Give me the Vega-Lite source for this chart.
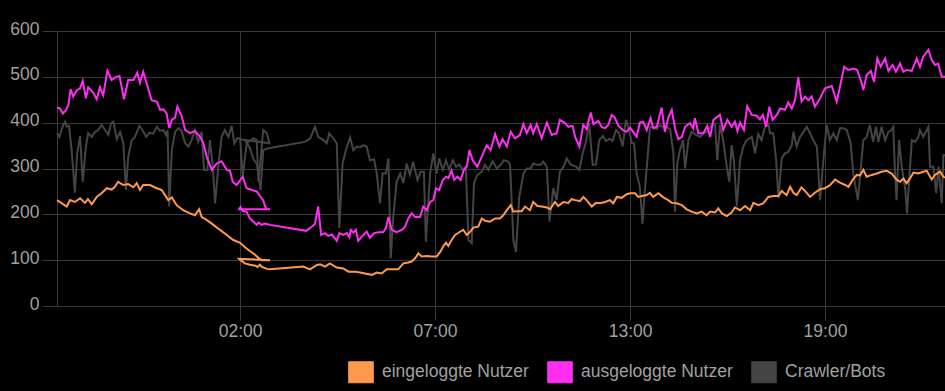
{
"$schema": "https://vega.github.io/schema/vega-lite/v6.json",
"width": 888, "height": 275,
"autosize": "none",
"padding": {"left": 57, "top": 31, "right": 0, "bottom": 85},
"background": "#000000",
"config": {"view": {"stroke": null}, "font": "Liberation Sans"},
"datasets": {
"ein": [{"i":0,"v":231},{"i":3,"v":217},{"i":4,"v":231},{"i":5.5,"v":227},{"i":7.1,"v":235},{"i":8.6,"v":225},{"i":9.5,"v":233},{"i":10.7,"v":222},{"i":12.2,"v":238},{"i":13.7,"v":246},{"i":15.3,"v":257},{"i":16.8,"v":254},{"i":17.8,"v":260},{"i":18.8,"v":271},{"i":20.4,"v":264},{"i":21.9,"v":266},{"i":23.5,"v":259},{"i":24.5,"v":268},{"i":25.5,"v":253},{"i":26.5,"v":264},{"i":28.6,"v":264},{"i":30.7,"v":257},{"i":32.2,"v":253},{"i":33.2,"v":242},{"i":34.2,"v":231},{"i":35.3,"v":237},{"i":36.8,"v":220},{"i":38.8,"v":209},{"i":40.9,"v":202},{"i":42.4,"v":198},{"i":43.7,"v":211},{"i":44.5,"v":194},{"i":46,"v":188},{"i":48.1,"v":177},{"i":50.1,"v":166},{"i":52.2,"v":155},{"i":54.2,"v":144},{"i":56.3,"v":138},{"i":57.8,"v":128},{"i":59.3,"v":120},{"i":60.9,"v":112},{"i":61.9,"v":105},{"i":62.9,"v":100},{"i":64.5,"v":100},{"i":65.5,"v":100},
{"i":56,"v":103},{"i":56.6,"v":99},{"i":57.8,"v":93},{"i":59.3,"v":90},{"i":61,"v":88},{"i":61.6,"v":85},{"i":62.4,"v":90},{"i":62.9,"v":86},{"i":64.5,"v":81},{"i":65.5,"v":80},
{"i":75.7,"v":86},{"i":77.8,"v":80},{"i":79.8,"v":89},{"i":80.9,"v":91},{"i":82.4,"v":86},{"i":83.9,"v":93},{"i":86,"v":84},{"i":88,"v":82},{"i":89.6,"v":75},{"i":91.6,"v":75},{"i":93.2,"v":73},{"i":94.7,"v":71},{"i":96.8,"v":68},{"i":98.3,"v":73},{"i":99.8,"v":71},{"i":101.4,"v":80},{"i":102.9,"v":80},{"i":104.9,"v":80},{"i":106.5,"v":93},{"i":108,"v":95},{"i":109,"v":97},{"i":110.1,"v":104},{"i":111.1,"v":115},{"i":112.1,"v":108},{"i":113.7,"v":109},{"i":115.2,"v":108},{"i":116.7,"v":108},{"i":117.8,"v":118},{"i":118.8,"v":131},{"i":119.6,"v":138},{"i":120.3,"v":131},{"i":121.3,"v":144},{"i":122.4,"v":155},{"i":123.9,"v":162},{"i":124.9,"v":166},{"i":126,"v":155},{"i":127,"v":162},{"i":128,"v":171},{"i":129.5,"v":173},{"i":130.6,"v":191},{"i":131.6,"v":186},{"i":133.1,"v":184},{"i":134.7,"v":191},{"i":136.2,"v":191},{"i":137.2,"v":198},{"i":138.3,"v":209},{"i":139.5,"v":220},{"i":140.3,"v":206},{"i":141.8,"v":207},{"i":142.9,"v":207},{"i":143.9,"v":217},{"i":145.4,"v":209},{"i":146.4,"v":227},{"i":147.7,"v":218},{"i":149,"v":217},{"i":150.6,"v":215},{"i":151.6,"v":211},{"i":153.1,"v":227},{"i":154.1,"v":218},{"i":155.7,"v":227},{"i":157.2,"v":225},{"i":158.2,"v":233},{"i":159.3,"v":231},{"i":160.8,"v":229},{"i":161.8,"v":238},{"i":162.8,"v":231},{"i":164.4,"v":217},{"i":165.7,"v":225},{"i":166.9,"v":224},{"i":168.5,"v":227},{"i":170,"v":231},{"i":171,"v":224},{"i":172.1,"v":238},{"i":173.6,"v":236},{"i":175.1,"v":244},{"i":176.2,"v":246},{"i":177.7,"v":246},{"i":178.7,"v":238},{"i":179.8,"v":240},{"i":181.3,"v":242},{"i":182.3,"v":247},{"i":183.3,"v":238},{"i":184.9,"v":246},{"i":186.4,"v":237},{"i":187.9,"v":231},{"i":189,"v":225},{"i":190.5,"v":224},{"i":192.1,"v":220},{"i":193.6,"v":211},{"i":195.1,"v":206},{"i":196.7,"v":202},{"i":198.2,"v":206},{"i":199.7,"v":198},{"i":200.8,"v":206},{"i":202.3,"v":204},{"i":203.3,"v":213},{"i":204.4,"v":202},{"i":205.9,"v":196},{"i":207.4,"v":204},{"i":208.4,"v":215},{"i":210,"v":209},{"i":211.5,"v":218},{"i":213.1,"v":209},{"i":214.1,"v":225},{"i":215.6,"v":220},{"i":217.1,"v":224},{"i":218.7,"v":238},{"i":220.2,"v":240},{"i":221.8,"v":240},{"i":222.8,"v":251},{"i":224.3,"v":242},{"i":225.4,"v":260},{"i":226.4,"v":247},{"i":227.4,"v":242},{"i":228.9,"v":259},{"i":230.5,"v":247},{"i":231.5,"v":238},{"i":233,"v":247},{"i":234.6,"v":255},{"i":236.1,"v":257},{"i":237.7,"v":264},{"i":239.2,"v":276},{"i":240.7,"v":269},{"i":242.3,"v":264},{"i":243.3,"v":260},{"i":244.6,"v":275},{"i":245.9,"v":286},{"i":246.9,"v":285},{"i":247.9,"v":297},{"i":248.9,"v":282},{"i":250.5,"v":286},{"i":252,"v":289},{"i":253.5,"v":293},{"i":255.1,"v":295},{"i":256.6,"v":289},{"i":258.2,"v":275},{"i":259.2,"v":271},{"i":260.2,"v":278},{"i":261.2,"v":268},{"i":262.2,"v":278},{"i":263.3,"v":291},{"i":264.8,"v":289},{"i":266.3,"v":293},{"i":267.4,"v":295},{"i":268.9,"v":276},{"i":269.9,"v":286},{"i":271.5,"v":293},{"i":272.5,"v":282},{"i":273,"v":280}],
"aus": [{"i":0,"v":433},{"i":0.9,"v":431},{"i":1.8,"v":420},{"i":2.8,"v":428},{"i":3.5,"v":439},{"i":4.2,"v":473},{"i":5,"v":457},{"i":6.1,"v":471},{"i":7.1,"v":475},{"i":7.9,"v":491},{"i":8.9,"v":453},{"i":9.6,"v":477},{"i":11.2,"v":465},{"i":12.2,"v":451},{"i":13.2,"v":477},{"i":14.2,"v":460},{"i":15.5,"v":513},{"i":16.8,"v":493},{"i":18.1,"v":500},{"i":19.2,"v":502},{"i":20.6,"v":451},{"i":21.9,"v":493},{"i":23.5,"v":493},{"i":24.7,"v":509},{"i":25.5,"v":487},{"i":26.5,"v":511},{"i":28.1,"v":473},{"i":29.1,"v":449},{"i":30.7,"v":446},{"i":31.7,"v":428},{"i":32.7,"v":429},{"i":33.7,"v":420},{"i":34.5,"v":388},{"i":35.3,"v":406},{"i":36.3,"v":411},{"i":37,"v":435},{"i":38.3,"v":415},{"i":39.4,"v":384},{"i":40.9,"v":377},{"i":42.4,"v":382},{"i":44,"v":369},{"i":45,"v":355},{"i":46,"v":326},{"i":47.6,"v":297},{"i":49.1,"v":311},{"i":50.6,"v":316},{"i":52.2,"v":297},{"i":53.2,"v":295},{"i":54,"v":271},{"i":55.2,"v":264},{"i":57.1,"v":282},{"i":58.3,"v":257},{"i":59.9,"v":253},{"i":61.4,"v":250},{"i":62.4,"v":240},{"i":63.4,"v":231},{"i":64,"v":217},{"i":64.5,"v":211},{"i":65.5,"v":211},
{"i":56,"v":211},{"i":56.4,"v":216},{"i":57.1,"v":207},{"i":58.3,"v":206},{"i":59.3,"v":191},{"i":60.4,"v":184},{"i":61.4,"v":177},{"i":62,"v":182},{"i":62.9,"v":177},{"i":63.9,"v":180},{"i":65.5,"v":177},
{"i":76.6,"v":164},{"i":78.3,"v":173},{"i":79.3,"v":179},{"i":80.3,"v":217},{"i":81.2,"v":155},{"i":82.4,"v":159},{"i":83.4,"v":153},{"i":84.5,"v":156},{"i":85.2,"v":150},{"i":86,"v":142},{"i":86.8,"v":159},{"i":88,"v":155},{"i":89.1,"v":159},{"i":89.9,"v":150},{"i":90.3,"v":166},{"i":91.1,"v":160},{"i":91.9,"v":166},{"i":92.6,"v":142},{"i":94.2,"v":155},{"i":95.2,"v":162},{"i":96.2,"v":149},{"i":97.5,"v":159},{"i":98.8,"v":161},{"i":100.3,"v":161},{"i":101.1,"v":170},{"i":101.9,"v":194},{"i":102.9,"v":166},{"i":104.4,"v":161},{"i":106,"v":166},{"i":107,"v":173},{"i":108,"v":191},{"i":109,"v":202},{"i":110.1,"v":194},{"i":111.6,"v":194},{"i":112.6,"v":217},{"i":113.7,"v":209},{"i":114.7,"v":227},{"i":115.7,"v":231},{"i":116.5,"v":257},{"i":117.5,"v":253},{"i":118.6,"v":275},{"i":119.6,"v":282},{"i":120.3,"v":279},{"i":121.3,"v":295},{"i":122.1,"v":275},{"i":123.1,"v":282},{"i":124.1,"v":275},{"i":125.1,"v":297},{"i":126,"v":304},{"i":126.8,"v":340},{"i":127.8,"v":318},{"i":129.2,"v":304},{"i":130.6,"v":326},{"i":132.1,"v":351},{"i":133.3,"v":340},{"i":134.7,"v":375},{"i":136,"v":348},{"i":137,"v":364},{"i":138.3,"v":348},{"i":139.5,"v":380},{"i":140.8,"v":366},{"i":142.3,"v":373},{"i":143.4,"v":397},{"i":144.4,"v":377},{"i":145.6,"v":395},{"i":146.4,"v":377},{"i":147.5,"v":397},{"i":149,"v":366},{"i":150.6,"v":400},{"i":152.1,"v":373},{"i":153.6,"v":377},{"i":154.6,"v":406},{"i":156.2,"v":399},{"i":157.2,"v":391},{"i":158.5,"v":393},{"i":159.3,"v":369},{"i":160.6,"v":348},{"i":161.8,"v":395},{"i":162.8,"v":386},{"i":164.1,"v":422},{"i":164.9,"v":397},{"i":166.4,"v":404},{"i":167.5,"v":390},{"i":168.5,"v":388},{"i":169.5,"v":395},{"i":170.5,"v":417},{"i":171.5,"v":411},{"i":172.6,"v":393},{"i":174.1,"v":383},{"i":175.1,"v":380},{"i":176.2,"v":389},{"i":178.2,"v":369},{"i":179.2,"v":400},{"i":180.2,"v":402},{"i":181.3,"v":384},{"i":182.5,"v":410},{"i":183.3,"v":388},{"i":184.4,"v":391},{"i":185.9,"v":433},{"i":186.9,"v":380},{"i":187.9,"v":410},{"i":189,"v":428},{"i":190,"v":388},{"i":191,"v":364},{"i":192.1,"v":369},{"i":193.1,"v":391},{"i":194.6,"v":399},{"i":195.6,"v":388},{"i":196.1,"v":410},{"i":197.2,"v":377},{"i":198.7,"v":377},{"i":199.9,"v":393},{"i":200.8,"v":369},{"i":201.8,"v":406},{"i":203.8,"v":417},{"i":204.8,"v":384},{"i":206.1,"v":406},{"i":207.4,"v":391},{"i":208.4,"v":402},{"i":209.2,"v":382},{"i":210,"v":400},{"i":211.2,"v":384},{"i":212.2,"v":436},{"i":213.6,"v":417},{"i":215.1,"v":415},{"i":216.1,"v":407},{"i":217,"v":417},{"i":218,"v":391},{"i":219,"v":435},{"i":220,"v":406},{"i":221.3,"v":417},{"i":222.3,"v":431},{"i":223.8,"v":428},{"i":224.8,"v":444},{"i":225.9,"v":431},{"i":226.9,"v":449},{"i":227.9,"v":499},{"i":228.9,"v":446},{"i":230,"v":457},{"i":231,"v":449},{"i":232,"v":457},{"i":233,"v":435},{"i":234.6,"v":453},{"i":236.1,"v":475},{"i":238.2,"v":480},{"i":239.7,"v":446},{"i":240.7,"v":478},{"i":242,"v":522},{"i":243.3,"v":515},{"i":244.8,"v":518},{"i":246,"v":515},{"i":247.1,"v":493},{"i":247.9,"v":471},{"i":248.9,"v":504},{"i":250.2,"v":513},{"i":251.2,"v":489},{"i":252.2,"v":540},{"i":253.2,"v":522},{"i":254.6,"v":540},{"i":255.6,"v":513},{"i":256.9,"v":526},{"i":257.9,"v":511},{"i":259.2,"v":529},{"i":260.2,"v":511},{"i":261.2,"v":515},{"i":262.8,"v":513},{"i":264.3,"v":540},{"i":265.3,"v":522},{"i":266.3,"v":544},{"i":267.9,"v":559},{"i":268.9,"v":537},{"i":269.9,"v":526},{"i":270.9,"v":529},{"i":272,"v":500},{"i":273,"v":500}],
"bot": [{"i":0,"v":377},{"i":0.7,"v":369},{"i":1.9,"v":395},{"i":2.5,"v":402},{"i":3,"v":391},{"i":3.7,"v":393},{"i":4.5,"v":340},{"i":5.5,"v":247},{"i":6.2,"v":333},{"i":7.1,"v":371},{"i":7.9,"v":271},{"i":8.9,"v":348},{"i":9.6,"v":377},{"i":10.7,"v":369},{"i":11.7,"v":380},{"i":12.7,"v":384},{"i":13.7,"v":395},{"i":14.8,"v":384},{"i":15.8,"v":373},{"i":16.6,"v":398},{"i":17.3,"v":402},{"i":18.4,"v":364},{"i":19.4,"v":380},{"i":20.4,"v":355},{"i":21.2,"v":253},{"i":21.9,"v":326},{"i":23,"v":362},{"i":24,"v":369},{"i":25.3,"v":393},{"i":26.3,"v":384},{"i":27.4,"v":369},{"i":28.4,"v":378},{"i":29.6,"v":376},{"i":30.7,"v":391},{"i":31.7,"v":382},{"i":32.7,"v":384},{"i":33.5,"v":373},{"i":34,"v":384},{"i":34.5,"v":217},{"i":35.3,"v":340},{"i":36.3,"v":380},{"i":37.3,"v":388},{"i":38.3,"v":382},{"i":39.4,"v":355},{"i":40.4,"v":348},{"i":41.4,"v":362},{"i":42.4,"v":384},{"i":43.4,"v":358},{"i":44.5,"v":380},{"i":45.2,"v":297},{"i":46.2,"v":297},{"i":47,"v":362},{"i":47.9,"v":304},{"i":48.6,"v":224},{"i":49.6,"v":304},{"i":50.6,"v":369},{"i":51.6,"v":384},{"i":52.7,"v":369},{"i":53.7,"v":393},{"i":54.5,"v":355},{"i":55.4,"v":366},{"i":56.3,"v":366},{"i":57.1,"v":282},{"i":58.3,"v":355},{"i":59.3,"v":360},{"i":60.4,"v":366},{"i":61.4,"v":362},{"i":61.9,"v":271},{"i":62.7,"v":330},{"i":63.4,"v":384},{"i":64.5,"v":377},{"i":65.3,"v":355},
{"i":56.3,"v":364},{"i":57.8,"v":362},{"i":59.3,"v":345},{"i":60.4,"v":320},{"i":61.4,"v":310},{"i":62.6,"v":253},{"i":63.4,"v":340},{"i":65,"v":344},
{"i":76.2,"v":358},{"i":77.8,"v":365},{"i":79.3,"v":391},{"i":80.3,"v":369},{"i":81.9,"v":362},{"i":82.9,"v":355},{"i":83.7,"v":377},{"i":84.9,"v":366},{"i":86,"v":355},{"i":86.8,"v":170},{"i":87.8,"v":311},{"i":88.8,"v":340},{"i":90.1,"v":368},{"i":91.1,"v":340},{"i":92.1,"v":348},{"i":93.2,"v":346},{"i":94.2,"v":351},{"i":95.2,"v":348},{"i":96.2,"v":318},{"i":97.5,"v":320},{"i":98.3,"v":289},{"i":99.3,"v":224},{"i":100.1,"v":289},{"i":101.1,"v":289},{"i":101.9,"v":322},{"i":102.6,"v":104},{"i":103.4,"v":195},{"i":104.4,"v":271},{"i":105.5,"v":289},{"i":106.5,"v":268},{"i":107.5,"v":311},{"i":108.5,"v":286},{"i":109.5,"v":315},{"i":110.8,"v":275},{"i":111.8,"v":293},{"i":112.8,"v":293},{"i":113.4,"v":140},{"i":114.7,"v":289},{"i":115.7,"v":333},{"i":116.7,"v":289},{"i":117.5,"v":322},{"i":118.6,"v":297},{"i":119.6,"v":318},{"i":120.6,"v":297},{"i":121.7,"v":318},{"i":122.7,"v":304},{"i":123.7,"v":309},{"i":124.7,"v":297},{"i":125.7,"v":304},{"i":126.5,"v":144},{"i":127.5,"v":137},{"i":128.2,"v":268},{"i":129.2,"v":286},{"i":130.6,"v":293},{"i":131.6,"v":308},{"i":132.6,"v":297},{"i":133.9,"v":316},{"i":135.2,"v":300},{"i":136.4,"v":308},{"i":137.4,"v":318},{"i":138.7,"v":315},{"i":139.3,"v":308},{"i":140.3,"v":144},{"i":141.1,"v":118},{"i":142.1,"v":238},{"i":143.4,"v":289},{"i":144.4,"v":300},{"i":145.6,"v":300},{"i":146.4,"v":311},{"i":147.5,"v":308},{"i":148.7,"v":308},{"i":149.5,"v":315},{"i":150.6,"v":304},{"i":151.4,"v":184},{"i":152.6,"v":257},{"i":153.6,"v":231},{"i":154.6,"v":293},{"i":155.7,"v":304},{"i":156.7,"v":322},{"i":157.9,"v":309},{"i":159.6,"v":304},{"i":160.6,"v":297},{"i":161.6,"v":333},{"i":162.6,"v":358},{"i":163.6,"v":398},{"i":164.7,"v":308},{"i":165.7,"v":309},{"i":166.7,"v":362},{"i":167.8,"v":371},{"i":168.8,"v":360},{"i":169.8,"v":365},{"i":170.8,"v":360},{"i":171.9,"v":384},{"i":172.9,"v":375},{"i":173.9,"v":348},{"i":174.9,"v":406},{"i":175.9,"v":384},{"i":176.7,"v":355},{"i":177.4,"v":355},{"i":178.2,"v":289},{"i":179.2,"v":260},{"i":180,"v":179},{"i":180.8,"v":260},{"i":181.5,"v":318},{"i":182.3,"v":391},{"i":183.3,"v":389},{"i":184.4,"v":386},{"i":185.4,"v":395},{"i":186.4,"v":389},{"i":187.4,"v":391},{"i":188.5,"v":386},{"i":189.5,"v":333},{"i":190,"v":206},{"i":190.7,"v":311},{"i":191.5,"v":340},{"i":192.5,"v":362},{"i":193.1,"v":300},{"i":194.1,"v":362},{"i":195.1,"v":380},{"i":196.1,"v":375},{"i":197.7,"v":369},{"i":198.7,"v":377},{"i":199.7,"v":380},{"i":201.3,"v":395},{"i":202.3,"v":397},{"i":203,"v":318},{"i":203.8,"v":395},{"i":204.8,"v":362},{"i":205.9,"v":304},{"i":206.7,"v":271},{"i":207.4,"v":351},{"i":208.1,"v":318},{"i":209,"v":217},{"i":210,"v":318},{"i":211,"v":348},{"i":212,"v":362},{"i":213.6,"v":369},{"i":214.6,"v":333},{"i":215.6,"v":375},{"i":216.6,"v":362},{"i":217.7,"v":391},{"i":218.7,"v":397},{"i":219.2,"v":377},{"i":220.2,"v":377},{"i":221.1,"v":318},{"i":221.8,"v":235},{"i":222.8,"v":322},{"i":223.8,"v":333},{"i":224.8,"v":336},{"i":225.9,"v":351},{"i":226.4,"v":380},{"i":227.4,"v":348},{"i":228.4,"v":369},{"i":229.5,"v":380},{"i":230.5,"v":391},{"i":231.5,"v":377},{"i":232.5,"v":362},{"i":233.6,"v":348},{"i":234.6,"v":231},{"i":235.6,"v":318},{"i":236.6,"v":395},{"i":237.6,"v":362},{"i":238.7,"v":377},{"i":239.7,"v":362},{"i":240.7,"v":388},{"i":241.7,"v":388},{"i":242.8,"v":384},{"i":244,"v":355},{"i":244.8,"v":289},{"i":246.2,"v":231},{"i":247.9,"v":362},{"i":248.9,"v":369},{"i":249.9,"v":395},{"i":250.9,"v":358},{"i":251.8,"v":391},{"i":252.5,"v":358},{"i":253.5,"v":391},{"i":254.6,"v":362},{"i":255.6,"v":380},{"i":256.6,"v":384},{"i":257.1,"v":391},{"i":257.6,"v":297},{"i":258.1,"v":231},{"i":258.9,"v":362},{"i":259.7,"v":304},{"i":260.8,"v":253},{"i":261.3,"v":202},{"i":262.2,"v":297},{"i":262.8,"v":362},{"i":263.8,"v":358},{"i":264.8,"v":369},{"i":265.3,"v":384},{"i":266.3,"v":369},{"i":267.4,"v":384},{"i":267.9,"v":391},{"i":268.4,"v":304},{"i":269.4,"v":304},{"i":270.3,"v":246},{"i":271,"v":304},{"i":272,"v":224},{"i":272.5,"v":329},{"i":273,"v":329}]
},
"encoding": {
  "x": {"field": "i", "type": "quantitative", "scale": {"domain": [0, 273], "nice": false, "zero": false},
        "axis": {"title": null, "values": [56.3, 116.2, 176.2, 236.1],
                 "labelExpr": "datum.value < 80 ? '02:00' : datum.value < 150 ? '07:00' : datum.value < 200 ? '13:00' : '19:00'",
                 "grid": true, "gridColor": "#383838", "gridWidth": 1, "domain": false,
                 "ticks": true, "tickColor": "#383838", "tickSize": 14, "labelPadding": 2,
                 "labelColor": "#a0a0a0", "labelFontSize": 17.5, "labelFont": "Liberation Sans", "labelFlush": false}},
  "y": {"field": "v", "type": "quantitative", "scale": {"domain": [0, 600], "nice": false},
        "axis": {"title": null, "values": [0, 100, 200, 300, 400, 500, 600],
                 "grid": true, "gridColor": "#383838", "gridWidth": 1, "domain": true, "domainColor": "#383838",
                 "ticks": true, "tickColor": "#383838", "tickSize": 15, "labelPadding": 3, "labelOffset": -2,
                 "labelColor": "#a0a0a0", "labelFontSize": 17.5, "labelFont": "Liberation Sans", "labelFlush": false}},
  "order": {"value": null}
},
"layer": [
  {"data": {"name": "bot"}, "mark": {"type": "line", "strokeWidth": 2},
   "encoding": {"color": {"datum": "Crawler/Bots", "type": "nominal",
      "scale": {"domain": ["eingeloggte Nutzer", "ausgeloggte Nutzer", "Crawler/Bots"], "range": ["#ff9a4d", "#ff2ef2", "#444444"]},
      "legend": {"orient": "none", "legendX": 293, "legendY": 330, "direction": "horizontal", "title": null,
                 "symbolType": "M-1.17,-1H1.17V1H-1.17Z", "symbolSize": 441, "symbolStrokeWidth": 1, "symbolOpacity": 1,
                 "labelFontSize": 17.5, "labelFont": "Liberation Sans", "labelColor": "#a0a0a0", "labelOffset": 10,
                 "columnPadding": 16, "padding": 0,
                 "encode": {"symbols": {"update": {"fill": {"scale": "color", "field": "value"}, "stroke": {"value": "rgba(0,0,0,0.4)"}, "opacity": {"value": 1}}}}}}}},
  {"data": {"name": "aus"}, "mark": {"type": "line", "strokeWidth": 2},
   "encoding": {"color": {"datum": "ausgeloggte Nutzer", "type": "nominal"}}},
  {"data": {"name": "ein"}, "mark": {"type": "line", "strokeWidth": 2},
   "encoding": {"color": {"datum": "eingeloggte Nutzer", "type": "nominal"}}}
]
}
